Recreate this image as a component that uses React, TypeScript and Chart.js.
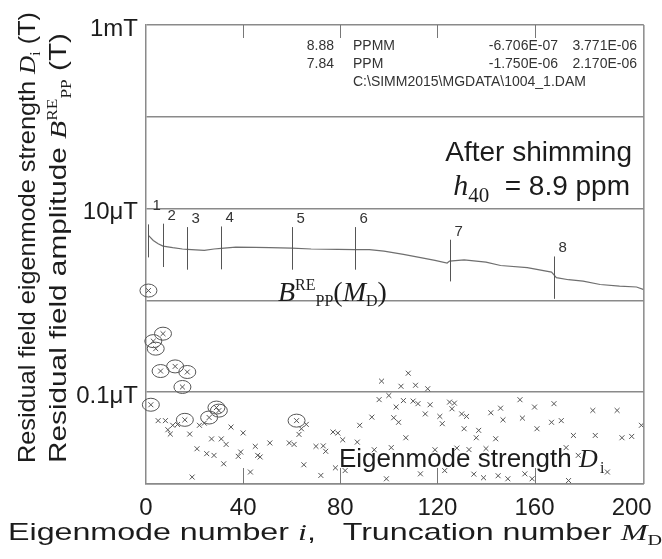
import React, { useEffect, useRef } from 'react';
import { Chart, registerables } from 'chart.js';

Chart.register(...registerables);

// ---------- data ----------
const xTickValues = [0, 40, 80, 120, 160, 200];
const innerTickValues = [40, 80, 120, 160];
const yTickValues = [0.01, 0.1, 1, 10, 100, 1000]; // µT
const yTickLabels: Record<string, string> = { '1000': '1mT', '10': '10μT', '0.1': '0.1μT' };

// Residual field amplitude B^RE_PP(M_D), µT
const bppIdx = [1, 3, 5, 7, 11, 15, 17, 24, 28, 31, 37, 45, 51, 60, 68, 79, 86, 92, 98, 106, 112, 119, 124, 125, 131, 140, 146, 157, 167, 169, 174, 180, 187, 195, 202, 205];
const bppVal = [5.1, 4.5, 4.14, 3.9, 3.75, 3.63, 3.6, 3.5, 3.63, 3.68, 3.81, 3.78, 3.75, 3.71, 3.63, 3.6, 3.57, 3.57, 3.44, 3.17, 2.96, 2.73, 2.55, 2.68, 2.77, 2.61, 2.4, 2.27, 2.03, 1.77, 1.68, 1.62, 1.49, 1.43, 1.4, 1.31];

// Truncation markers
const markerNum = ['1', '2', '3', '4', '5', '6', '7', '8'];
const markerIdx = [1, 7, 17, 31, 60, 86, 125, 168];
const markerTop = [6.73, 6.85, 6.29, 6.39, 6.29, 6.29, 4.58, 3.01];
const markerBottom = [2.94, 2.31, 2.16, 2.18, 2.16, 2.16, 1.61, 1.04];

// Eigenmode strength D_i, µT (circled modes)
const circIdx = [1, 2, 3, 4, 6, 7, 12, 15, 16, 17, 26, 29, 30, 62];
const circVal = [1.28, 0.073, 0.36, 0.298, 0.17, 0.434, 0.191, 0.114, 0.05, 0.166, 0.053, 0.068, 0.063, 0.049];

// Eigenmode strength D_i, µT (other modes)
const dIdx = [5, 8, 9, 10, 11, 13, 18, 19, 21, 22, 24, 25, 27, 28, 31, 32, 33, 34, 35, 38, 39, 40, 43, 45, 46, 47,
  51, 59, 59, 61, 63, 64, 65, 66, 70, 72, 73, 74, 77, 78, 79, 81, 82, 87, 87, 88, 93, 94, 96, 97, 98, 99, 100,
  101, 102, 103, 104, 105, 106, 107, 108, 110, 111, 112, 113, 115, 116, 116, 117, 119, 121, 122, 123, 125, 126, 127, 128,
  130, 131, 132, 133, 135, 136, 137, 137, 139, 140, 142, 144, 145, 146, 147, 149,
  154, 155, 156, 159, 160, 161, 163, 167, 168, 171, 173, 174, 176, 178, 184, 185, 187, 190, 194, 196, 198, 200, 204];
const dVal = [0.049, 0.049, 0.039, 0.035, 0.0436, 0.0445, 0.035, 0.0119, 0.0242, 0.0436, 0.046, 0.0214, 0.031, 0.0205, 0.031, 0.0166, 0.027, 0.0093, 0.0417, 0.02, 0.0223, 0.036, 0.0135, 0.0257, 0.0205, 0.0197,
  0.028, 0.028, 0.0093, 0.027, 0.0347, 0.04, 0.0162, 0.0446, 0.0257, 0.0124, 0.026, 0.0227, 0.0368, 0.015, 0.0359, 0.0303, 0.014, 0.0286, 0.0093, 0.0436, 0.0535, 0.0236, 0.083, 0.132, 0.0093, 0.0114, 0.092,
  0.0249, 0.0527, 0.069, 0.047, 0.116, 0.081, 0.0319, 0.161, 0.08, 0.119, 0.075, 0.0129, 0.058, 0.109, 0.0093, 0.073, 0.0236, 0.0545, 0.0454, 0.014, 0.078, 0.066, 0.076, 0.0246,
  0.058, 0.04, 0.0545, 0.0237, 0.0128, 0.0319, 0.0384, 0.0093, 0.0117, 0.0243, 0.0597, 0.0311, 0.0123, 0.067, 0.05, 0.0114,
  0.0828, 0.0522, 0.0129, 0.0114, 0.0689, 0.04, 0.0093, 0.047, 0.075, 0.049, 0.0249, 0.0109, 0.0338, 0.0205, 0.0633, 0.0338, 0.0093, 0.0135, 0.0633, 0.0319, 0.0093, 0.033, 0.0436];

// ---------- styles ----------
const SANS = '"Liberation Sans", Arial, sans-serif';
const SERIF = '"Liberation Serif", "Times New Roman", serif';
const TEXT = '#1c1c1c';
const GRID = '#8a8a8a';

type Seg = { t: string; f: string; dy?: number };

function drawRich(ctx: CanvasRenderingContext2D, segs: Seg[], x: number, y: number, align: 'left' | 'right' | 'center' = 'left', target?: number) {
  let w = 0;
  for (const s of segs) { ctx.font = s.f; w += ctx.measureText(s.t).width; }
  const sx = target ? target / w : 1;
  const tw = w * sx;
  const start = align === 'right' ? x - tw : align === 'center' ? x - tw / 2 : x;
  ctx.save();
  ctx.translate(start, y);
  ctx.scale(sx, 1);
  let cx = 0;
  for (const s of segs) {
    ctx.font = s.f;
    ctx.fillText(s.t, cx, s.dy || 0);
    cx += ctx.measureText(s.t).width;
  }
  ctx.restore();
}

const overlayPlugin = {
  id: 'overlay',
  afterDatasetsDraw(chart: any) {
    const ctx: CanvasRenderingContext2D = chart.ctx;
    const xs = chart.scales.x;
    const ys = chart.scales.y;
    const area = chart.chartArea;
    ctx.save();
    // right border
    ctx.strokeStyle = GRID;
    ctx.lineWidth = 1.5;
    ctx.beginPath();
    ctx.moveTo(area.right, area.top);
    ctx.lineTo(area.right, area.bottom);
    ctx.stroke();
    // inner ticks top and bottom
    ctx.lineWidth = 1;
    ctx.strokeStyle = '#777';
    for (const v of innerTickValues) {
      const px = Math.round(xs.getPixelForValue(v)) + 0.5;
      ctx.beginPath();
      ctx.moveTo(px, area.top);
      ctx.lineTo(px, area.top + 13);
      ctx.moveTo(px, area.bottom);
      ctx.lineTo(px, area.bottom - 16);
      ctx.stroke();
    }
    // truncation markers
    ctx.strokeStyle = '#555';
    ctx.fillStyle = '#333';
    ctx.lineWidth = 1;
    ctx.textBaseline = 'alphabetic';
    for (let k = 0; k < markerIdx.length; k++) {
      const px = Math.round(xs.getPixelForValue(markerIdx[k])) + 0.5;
      const t = ys.getPixelForValue(markerTop[k]);
      const b = ys.getPixelForValue(markerBottom[k]);
      ctx.beginPath();
      ctx.moveTo(px, t);
      ctx.lineTo(px, b);
      ctx.stroke();
      drawRich(ctx, [{ t: markerNum[k], f: `15px ${SANS}` }], px + 4, t - (k === 0 ? 14 : 4), 'left');
    }
    // circles around selected modes
    ctx.strokeStyle = '#555';
    for (let k = 0; k < circIdx.length; k++) {
      const px = xs.getPixelForValue(circIdx[k]);
      const py = ys.getPixelForValue(circVal[k]);
      ctx.beginPath();
      ctx.ellipse(px, py, 8.5, 6.5, 0, 0, Math.PI * 2);
      ctx.stroke();
    }
    ctx.restore();
  },
  afterDraw(chart: any) {
    const ctx: CanvasRenderingContext2D = chart.ctx;
    ctx.save();
    ctx.textBaseline = 'alphabetic';
    ctx.textAlign = 'left';
    // info block
    ctx.fillStyle = '#333';
    const f14 = `14px ${SANS}`;
    drawRich(ctx, [{ t: '8.88', f: f14 }], 334, 50, 'right');
    drawRich(ctx, [{ t: '-6.706E-07', f: f14 }], 558, 50, 'right');
    drawRich(ctx, [{ t: '3.771E-06', f: f14 }], 637, 50, 'right');
    drawRich(ctx, [{ t: '7.84', f: f14 }], 334, 68, 'right');
    drawRich(ctx, [{ t: '-1.750E-06', f: f14 }], 558, 68, 'right');
    drawRich(ctx, [{ t: '2.170E-06', f: f14 }], 637, 68, 'right');
    drawRich(ctx, [{ t: 'PPMM', f: f14 }], 353, 50);
    drawRich(ctx, [{ t: 'PPM', f: f14 }], 353, 68);
    drawRich(ctx, [{ t: 'C:\\SIMM2015\\MGDATA\\1004_1.DAM', f: f14 }], 353, 86);

    ctx.fillStyle = TEXT;
    // After shimming
    drawRich(ctx, [{ t: 'After shimming', f: `28px ${SANS}` }], 632, 161, 'right');
    drawRich(ctx, [
      { t: 'h', f: `italic 30px ${SERIF}` },
      { t: '40', f: `21px ${SERIF}`, dy: 7 },
      { t: '  = 8.9 ppm', f: `28px ${SANS}` },
    ], 630, 195, 'right');
    // B^RE_PP(M_D)
    drawRich(ctx, [
      { t: 'B', f: `italic 28px ${SERIF}` },
      { t: 'RE', f: `16px ${SERIF}`, dy: -11 },
      { t: 'PP', f: `16px ${SERIF}`, dy: 5 },
      { t: '(', f: `28px ${SERIF}` },
      { t: 'M', f: `italic 28px ${SERIF}` },
      { t: 'D', f: `16px ${SERIF}`, dy: 5 },
      { t: ')', f: `28px ${SERIF}` },
    ], 278, 301);
    // Eigenmode strength D_i
    drawRich(ctx, [
      { t: 'Eigenmode strength ', f: `26px ${SANS}` },
      { t: 'D', f: `italic 26px ${SERIF}` },
      { t: ' ', f: `8px ${SANS}` },
      { t: 'i', f: `16px ${SERIF}`, dy: 6 },
    ], 339, 467);
    // x title (stretched horizontally like the original)
    drawRich(ctx, [
      { t: 'Eigenmode number ', f: `24px ${SANS}` },
      { t: 'i', f: `italic 24px ${SERIF}` },
      { t: ',   Truncation number ', f: `24px ${SANS}` },
      { t: 'M', f: `italic 24px ${SERIF}` },
      { t: 'D', f: `15px ${SERIF}`, dy: 5 },
    ], 8, 540, 'left', 654);
    // y titles (rotated)
    ctx.save();
    ctx.translate(35, 463);
    ctx.rotate(-Math.PI / 2);
    drawRich(ctx, [
      { t: 'Residual field eigenmode strength ', f: `24px ${SANS}` },
      { t: 'D', f: `italic 24px ${SERIF}` },
      { t: 'i', f: `15px ${SERIF}`, dy: 5 },
      { t: ' (T)', f: `24px ${SANS}` },
    ], 0, 0, 'left', 451);
    ctx.restore();
    ctx.save();
    ctx.translate(66, 463);
    ctx.rotate(-Math.PI / 2);
    drawRich(ctx, [
      { t: 'Residual field amplitude ', f: `24px ${SANS}` },
      { t: 'B', f: `italic 24px ${SERIF}` },
      { t: 'RE', f: `14px ${SERIF}`, dy: -9 },
      { t: 'PP', f: `14px ${SERIF}`, dy: 5 },
      { t: ' (T)', f: `24px ${SANS}` },
    ], 0, 0, 'left', 430);
    ctx.restore();
    ctx.restore();
  },
};

export default function App() {
  const ref = useRef<HTMLCanvasElement | null>(null);
  useEffect(() => {
    document.body.style.margin = '0';
    const canvas = ref.current;
    if (!canvas) return;
    const bppData = bppIdx.map((x, i) => ({ x, y: bppVal[i] }));
    const dData = [
      ...circIdx.map((x, i) => ({ x, y: circVal[i] })),
      ...dIdx.map((x, i) => ({ x, y: dVal[i] })),
    ];
    const chart = new Chart(canvas, {
      type: 'scatter',
      data: {
        datasets: [
          {
            type: 'line',
            data: bppData,
            borderColor: '#6f6f6f',
            borderWidth: 1.2,
            pointRadius: 0,
            tension: 0,
            fill: false,
          } as any,
          {
            data: dData,
            pointStyle: 'crossRot',
            pointRadius: 3.5,
            borderColor: '#555',
            backgroundColor: '#555',
            borderWidth: 1,
          },
        ],
      },
      options: {
        responsive: false,
        animation: false,
        events: [],
        layout: { padding: { left: 0, right: 12, top: 25, bottom: 0 } },
        plugins: { legend: { display: false }, tooltip: { enabled: false }, title: { display: false } },
        scales: {
          x: {
            type: 'linear',
            min: 0,
            max: 205,
            afterBuildTicks: (s: any) => { s.ticks = xTickValues.map((v) => ({ value: v })); },
            afterFit: (s: any) => { s.height = 75; },
            grid: { display: false, drawTicks: false },
            border: { display: true, color: GRID, width: 1.5 },
            ticks: {
              font: { family: SANS, size: 24 },
              color: TEXT,
              padding: 10,
              maxRotation: 0,
              autoSkip: false,
            },
          },
          y: {
            type: 'logarithmic',
            min: 0.01,
            max: 1000,
            afterBuildTicks: (s: any) => { s.ticks = yTickValues.map((v) => ({ value: v })); },
            afterFit: (s: any) => { s.width = 146; },
            grid: { color: GRID, lineWidth: 1.5, drawTicks: false },
            border: { display: true, color: GRID, width: 1.5 },
            ticks: {
              callback: (v: any) => yTickLabels[String(v)] ?? '',
              font: { family: SANS, size: 24 },
              color: TEXT,
              padding: 8,
              labelOffset: 4,
              autoSkip: false,
            },
          },
        },
      },
      plugins: [overlayPlugin],
    } as any);
    return () => chart.destroy();
  }, []);
  return <canvas ref={ref} width={662} height={559} style={{ display: 'block' }} />;
}
